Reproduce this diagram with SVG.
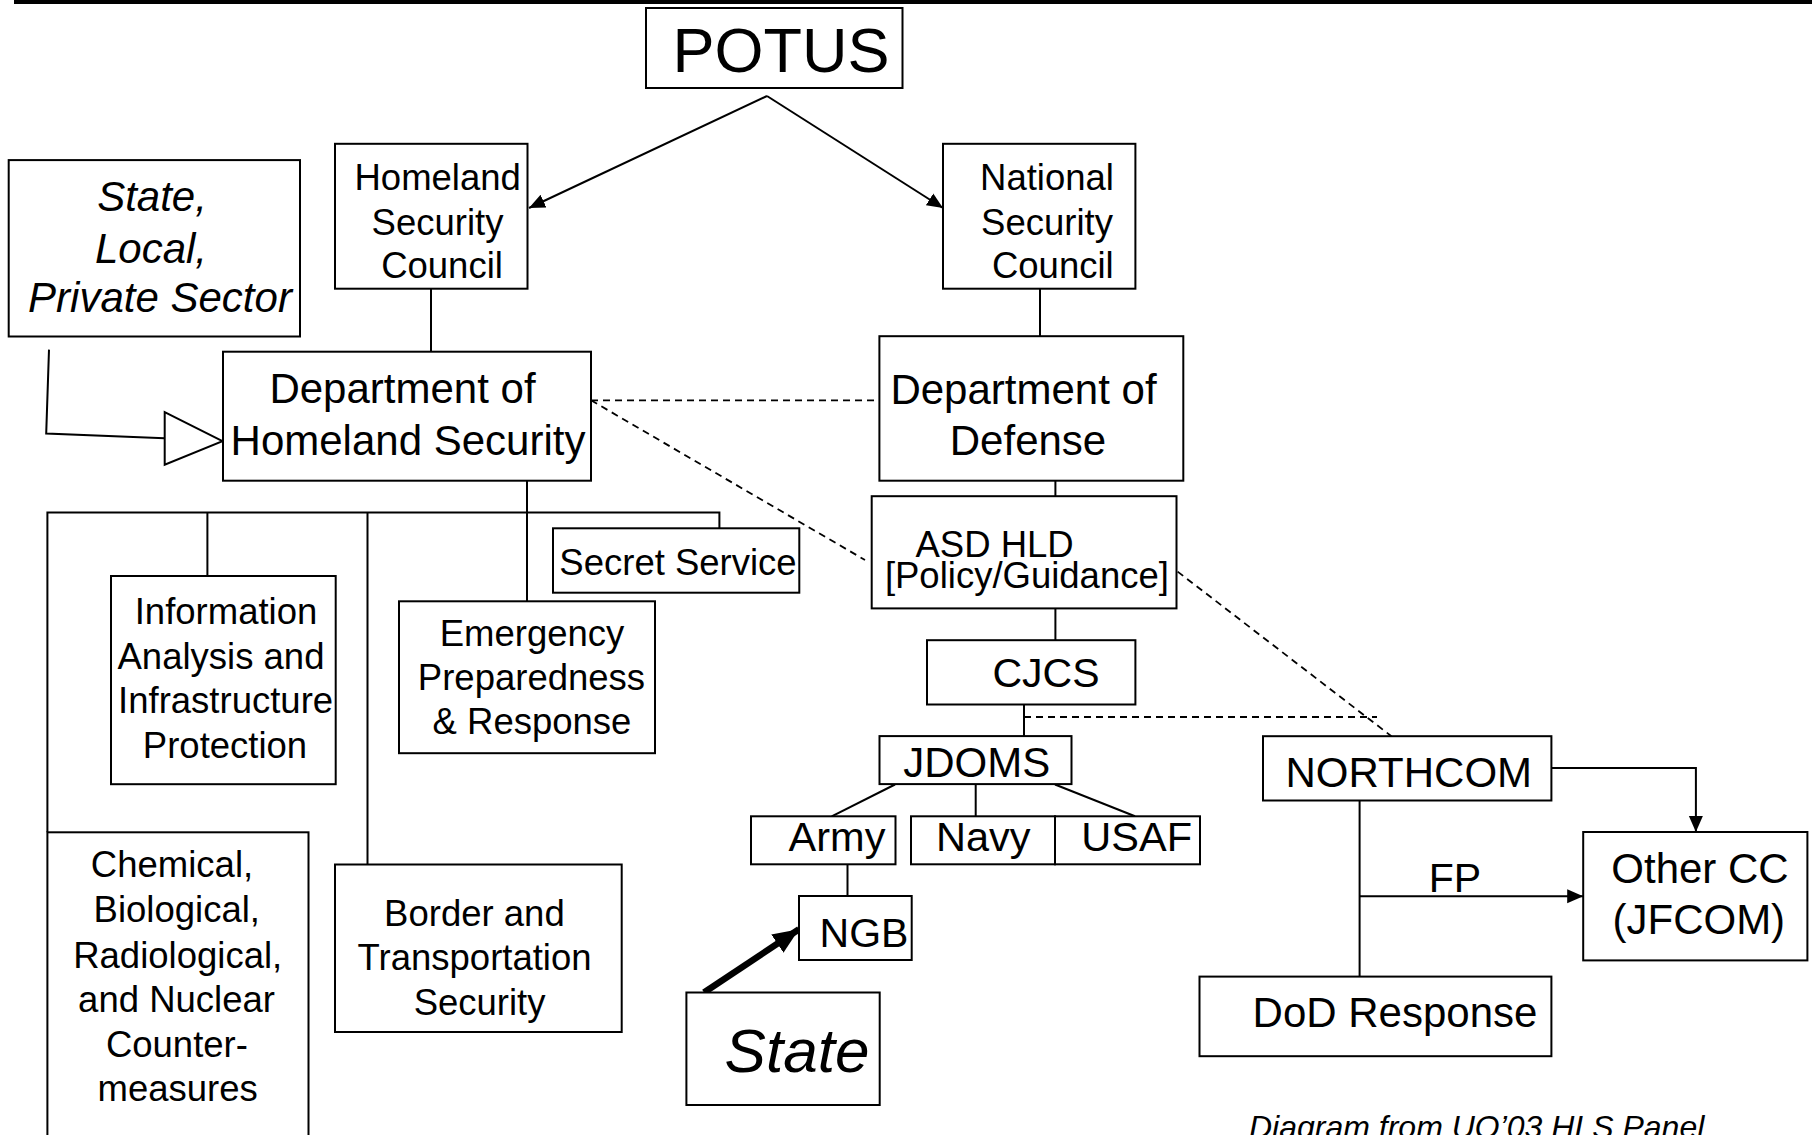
<svg xmlns="http://www.w3.org/2000/svg" width="1812" height="1135" viewBox="0 0 1812 1135">
<style>
  .box { fill: #fff; stroke: #000; stroke-width: 2; }
  .t { font-family: "Liberation Sans", Arial, sans-serif; fill: #000; text-anchor: middle; }
  .i { font-style: italic; }
  .s36 { font-size: 36.5px; }
  .s42 { font-size: 42px; }
  .ln { fill: none; stroke: #000; stroke-width: 2; }
  .dash { fill: none; stroke: #000; stroke-width: 1.8; stroke-dasharray: 7 5; }
</style>
<defs>
  <marker id="arr" markerUnits="userSpaceOnUse" markerWidth="17" markerHeight="16" refX="16" refY="8" orient="auto">
    <path d="M0,1 L16,8 L0,15 z" fill="#000"/>
  </marker>
  <marker id="arrBig" markerUnits="userSpaceOnUse" markerWidth="28" markerHeight="24" refX="26" refY="12" orient="auto">
    <path d="M0,1 L26,12 L0,23 z" fill="#000"/>
  </marker>
</defs>
<rect width="1812" height="1135" fill="#fff"/>
<rect x="14" y="0" width="1798" height="4" fill="#000"/>

<g id="connectors">
  <line class="ln" x1="767" y1="96" x2="529" y2="208" marker-end="url(#arr)"/>
  <line class="ln" x1="767" y1="96" x2="943" y2="208" marker-end="url(#arr)"/>
  <line class="ln" x1="431" y1="288.7" x2="431" y2="351.7"/>
  <line class="ln" x1="1040" y1="288.7" x2="1040" y2="336.2"/>
  <line class="ln" x1="1055.4" y1="480.7" x2="1055.4" y2="496.2"/>
  <line class="ln" x1="1055.4" y1="608.5" x2="1055.4" y2="640.2"/>
  <line class="ln" x1="1024" y1="704.5" x2="1024" y2="736.1"/>
  <line class="ln" x1="895" y1="784.5" x2="831.7" y2="816.3"/>
  <line class="ln" x1="975.7" y1="784" x2="975.7" y2="816.3"/>
  <line class="ln" x1="1055" y1="784.5" x2="1135" y2="816.3"/>
  <line class="ln" x1="847.5" y1="864.3" x2="847.5" y2="896"/>
  <line x1="704" y1="992.5" x2="799" y2="929.3" stroke="#000" stroke-width="6.5" marker-end="url(#arrBig)"/>
  <polyline class="ln" points="49,349.6 46.2,433.6 164.7,438.3"/>
  <polygon points="164.7,412.2 222.5,441.2 164.7,464.8" fill="#fff" stroke="#000" stroke-width="2"/>
  <line class="ln" x1="527" y1="480.7" x2="527" y2="601.3"/>
  <polyline class="ln" points="47.4,832.3 47.4,512.6 719.4,512.6 719.4,528.3"/>
  <line class="ln" x1="207.4" y1="512.6" x2="207.4" y2="576"/>
  <line class="ln" x1="367.5" y1="512.6" x2="367.5" y2="864.5"/>
  <line class="dash" x1="591" y1="400.3" x2="879.4" y2="400.3"/>
  <line class="dash" x1="591" y1="400.3" x2="865" y2="560"/>
  <line class="dash" x1="1177.6" y1="571.6" x2="1391.4" y2="736.2"/>
  <line class="dash" x1="1024" y1="717" x2="1377" y2="717"/>
  <polyline class="ln" points="1551.4,768 1695.9,768 1695.9,832" marker-end="url(#arr)"/>
  <line class="ln" x1="1359.6" y1="800.5" x2="1359.6" y2="976.6"/>
  <line class="ln" x1="1359.6" y1="896.3" x2="1583.2" y2="896.3" marker-end="url(#arr)"/>
  <text class="t" x="1455" y="891.6" font-size="41">FP</text>
</g>

<g id="potus">
  <rect class="box" x="646" y="8" width="256.5" height="80"/>
  <text class="t" x="781" y="71.7" font-size="63">POTUS</text>
</g>
<g id="hsc">
  <rect class="box" x="335" y="143.8" width="192.5" height="144.9"/>
  <text class="t s36" x="437.7" y="190.2">Homeland</text>
  <text class="t s36" x="437.5" y="234.5">Security</text>
  <text class="t s36" x="442" y="278.2">Council</text>
</g>
<g id="nsc">
  <rect class="box" x="943" y="143.8" width="192.4" height="144.9"/>
  <text class="t s36" x="1047" y="190.2">National</text>
  <text class="t s36" x="1047" y="234.5">Security</text>
  <text class="t s36" x="1052.8" y="278.2">Council</text>
</g>
<g id="state-local-private">
  <rect class="box" x="8.7" y="160.1" width="291.3" height="176.4"/>
  <text class="t i s42" x="152" y="210.8">State,</text>
  <text class="t i s42" x="151" y="262.6">Local,</text>
  <text class="t i s42" x="160" y="312.3">Private Sector</text>
</g>
<g id="dhs">
  <rect class="box" x="223" y="351.7" width="368" height="129"/>
  <text class="t s42" x="402.5" y="402.8">Department of</text>
  <text class="t s42" x="408" y="454.6">Homeland Security</text>
</g>
<g id="dod">
  <rect class="box" x="879.4" y="336.2" width="303.9" height="144.5"/>
  <text class="t s42" x="1023.5" y="404">Department of</text>
  <text class="t s42" x="1028" y="454.6">Defense</text>
</g>
<g id="asd-hld">
  <rect class="box" x="871.7" y="496.2" width="304.8" height="112.2"/>
  <text class="t s36" x="994.6" y="557.3">ASD HLD</text>
  <text class="t s36" x="1026.9" y="588.3">[Policy/Guidance]</text>
</g>
<g id="secret-service">
  <rect class="box" x="553" y="528.3" width="246.3" height="64.4"/>
  <text class="t s36" x="678" y="575">Secret Service</text>
</g>
<g id="info-analysis">
  <rect class="box" x="111" y="576" width="224.7" height="208.2"/>
  <text class="t s36" x="226" y="624.1">Information</text>
  <text class="t s36" x="221" y="668.5">Analysis and</text>
  <text class="t s36" x="225.6" y="712.6">Infrastructure</text>
  <text class="t s36" x="225" y="757.8">Protection</text>
</g>
<g id="emergency">
  <rect class="box" x="399" y="601.3" width="256" height="151.9"/>
  <text class="t s36" x="532" y="645.7">Emergency</text>
  <text class="t s36" x="531.5" y="690.2">Preparedness</text>
  <text class="t s36" x="532" y="734.3">&amp; Response</text>
</g>
<g id="cbrn">
  <rect class="box" x="47.4" y="832.3" width="261.1" height="330"/>
  <text class="t s36" x="172" y="877.2">Chemical,</text>
  <text class="t s36" x="176.8" y="922.4">Biological,</text>
  <text class="t s36" x="177.7" y="967.6">Radiological,</text>
  <text class="t s36" x="176.5" y="1012">and Nuclear</text>
  <text class="t s36" x="176.9" y="1056.9">Counter-</text>
  <text class="t s36" x="177.7" y="1101.4">measures</text>
</g>
<g id="border">
  <rect class="box" x="335" y="864.5" width="286.7" height="167.5"/>
  <text class="t s36" x="474.4" y="926">Border and</text>
  <text class="t s36" x="474.6" y="970">Transportation</text>
  <text class="t s36" x="479.6" y="1014.6">Security</text>
</g>
<g id="cjcs">
  <rect class="box" x="927" y="640.2" width="208.4" height="64.3"/>
  <text class="t" x="1046" y="686.5" font-size="41">CJCS</text>
</g>
<g id="jdoms">
  <rect class="box" x="879.5" y="736.1" width="192" height="48"/>
  <text class="t s42" x="976.7" y="777.3">JDOMS</text>
</g>
<g id="army">
  <rect class="box" x="751" y="816.3" width="144.5" height="48"/>
  <text class="t" x="837" y="850.7" font-size="41.5">Army</text>
</g>
<g id="navy">
  <rect class="box" x="911" y="816.3" width="144" height="48"/>
  <text class="t" x="983.3" y="850.7" font-size="41.5">Navy</text>
</g>
<g id="usaf">
  <rect class="box" x="1055" y="816.3" width="145" height="48"/>
  <text class="t" x="1136.7" y="850.7" font-size="41.5">USAF</text>
</g>
<g id="ngb">
  <rect class="box" x="799" y="896" width="112.7" height="64"/>
  <text class="t" x="864" y="946.7" font-size="41">NGB</text>
</g>
<g id="state">
  <rect class="box" x="686.4" y="992.5" width="193.3" height="112.5"/>
  <text class="t i" x="797" y="1072.4" font-size="62">State</text>
</g>
<g id="northcom">
  <rect class="box" x="1263" y="736.2" width="288.4" height="64.3"/>
  <text class="t s42" x="1408.8" y="786.8">NORTHCOM</text>
</g>
<g id="other-cc">
  <rect class="box" x="1583.2" y="832" width="224.2" height="128.4"/>
  <text class="t s42" x="1700" y="882.6">Other CC</text>
  <text class="t s42" x="1698.8" y="934">(JFCOM)</text>
</g>
<g id="dod-response">
  <rect class="box" x="1199.5" y="976.6" width="351.9" height="79.6"/>
  <text class="t s42" x="1395" y="1027.3">DoD Response</text>
</g>
<text class="t i" x="1249" y="1138" font-size="32" style="text-anchor:start">Diagram from UQ’03 HLS Panel</text>
</svg>
